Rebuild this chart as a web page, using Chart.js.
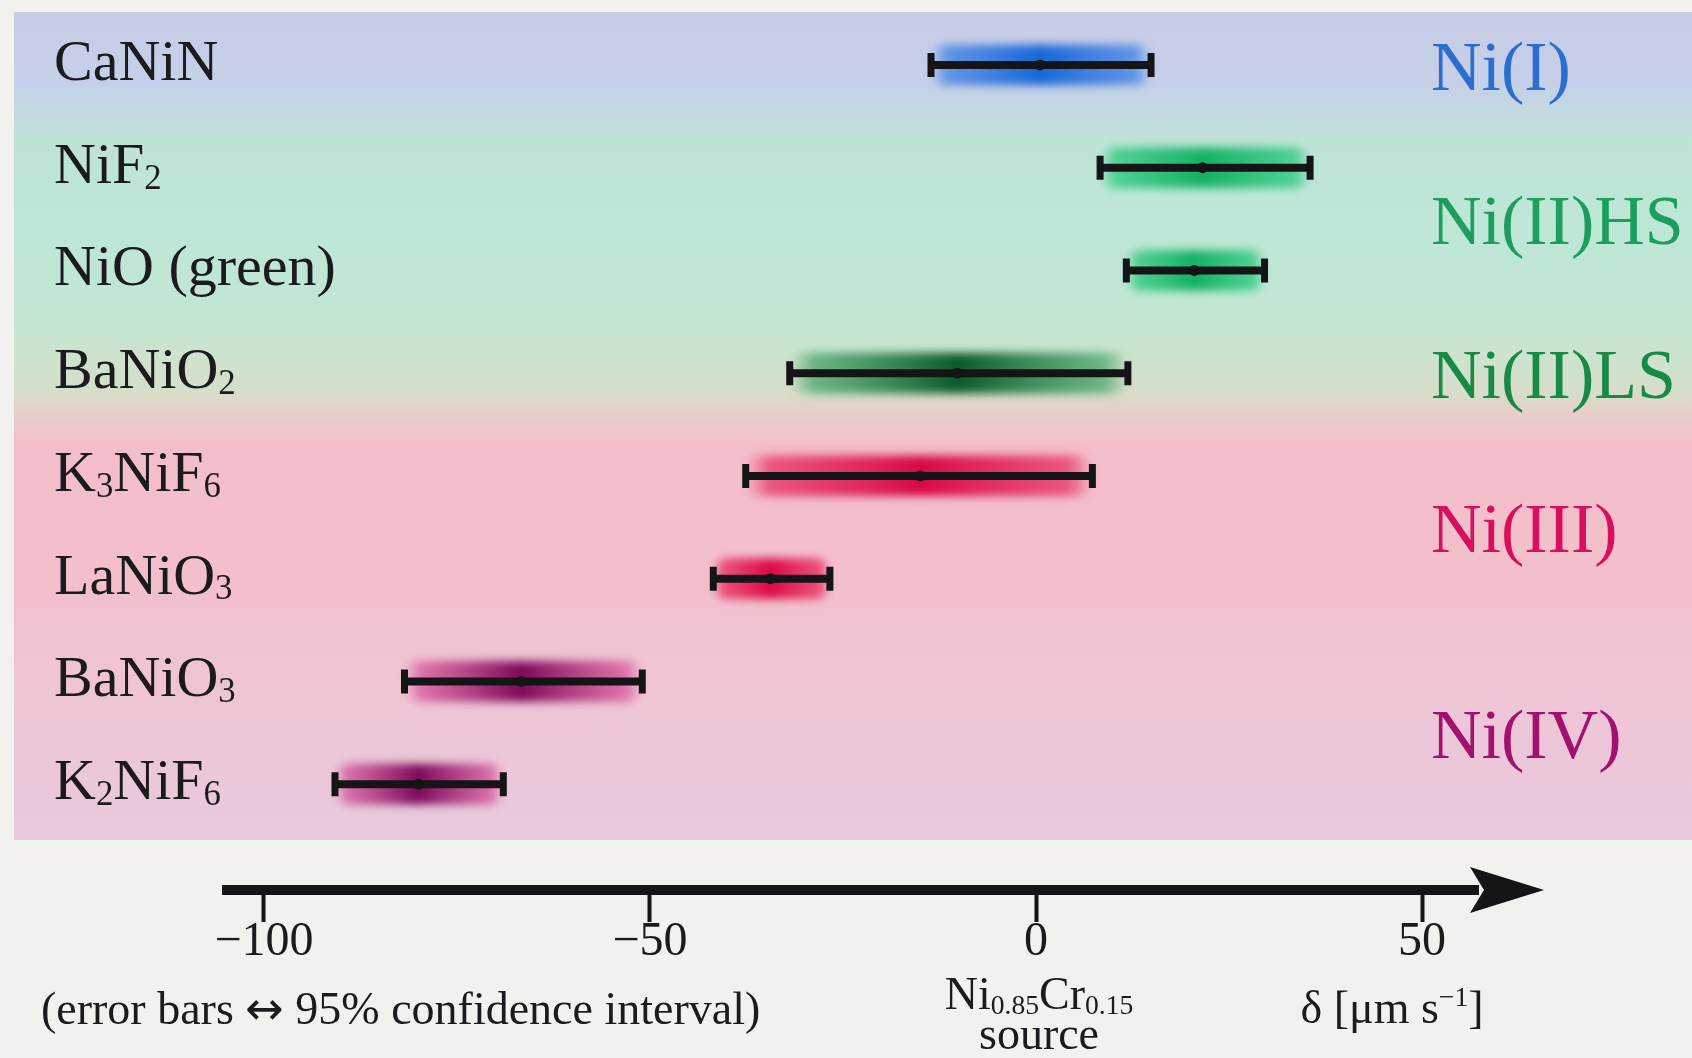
<!DOCTYPE html>
<html><head><meta charset="utf-8">
<script src="https://cdn.jsdelivr.net/npm/chart.js@4.4.1/dist/chart.umd.min.js"></script>
<style>html,body{margin:0;padding:0;background:#f3f1ed;}canvas{display:block;}</style>
</head><body>
<canvas id="c" width="1692" height="1058"></canvas>
<script>
// ---------- data ----------
const categories = ['CaNiN', 'NiF2', 'NiO (green)', 'BaNiO2', 'K3NiF6', 'LaNiO3', 'BaNiO3', 'K2NiF6'];
const centers = [0.5, 21.6, 20.5, -10.2, -15.0, -34.4, -66.7, -80.0];
const lows    = [-13.6, 8.3, 11.7, -31.9, -37.6, -41.8, -81.8, -90.8];
const highs   = [14.9, 35.5, 29.6, 11.9, 7.3, -26.7, -51.0, -69.0];
const groupLabels = ['Ni(I)', 'Ni(II)HS', 'Ni(II)LS', 'Ni(III)', 'Ni(IV)'];
const groupRows = [0, 1.5, 3, 4.5, 6.5];
const tickValues = [-100, -50, 0, 50];
const footnote = [{t:'(error bars '},{t:'\u2194',f:'"DejaVu Sans"'},{t:' 95% confidence interval)'}];
const sourceFormula = [{t:'Ni'},{t:'0.85',s:1},{t:'Cr'},{t:'0.15',s:1}];
const sourceWord = 'source';
const axisUnit = [{t:'\u03B4 [\u03BCm s'},{t:'\u22121',s:-1},{t:']'}];

// ---------- styles ----------
const FONT = '"Liberation Serif", "Times New Roman", serif';
const glowEdge = ['#4f8ae6','#3ccc88','#3ccc88','#5aae78','#ea4272','#ec3e6e','#dc62a2','#d660a0'];
const glowCore = ['#1766d8','#12b064','#12b064','#0a5a2a','#d80844','#dc0846','#7e0858','#7c085a'];
const groupColors = ['#2a6fd0','#1c9e5e','#178a45','#d8105c','#a0126e'];
const ink = '#151517';

function hexA(hex, a) {
  const n = parseInt(hex.slice(1), 16);
  return `rgba(${n>>16},${(n>>8)&255},${n&255},${a})`;
}

function drawRich(ctx, segs, x, y, size, align, color) {
  const parts = segs.map(sg => {
    const fs = sg.s ? size * 0.6 : size;
    const font = `${fs}px ${sg.f ? sg.f + ', ' : ''}${FONT}`;
    ctx.font = font;
    return {t: sg.t, s: sg.s || 0, font, w: ctx.measureText(sg.t).width};
  });
  const total = parts.reduce((a, p) => a + p.w, 0);
  let cx = align === 'center' ? x - total / 2 : align === 'right' ? x - total : x;
  ctx.fillStyle = color;
  ctx.textAlign = 'left';
  ctx.textBaseline = 'alphabetic';
  parts.forEach(p => {
    ctx.font = p.font;
    const dy = p.s === 1 ? size * 0.1 : p.s === -1 ? -size * 0.36 : 0;
    ctx.fillText(p.t, cx, y + dy);
    cx += p.w;
  });
}
function subSegs(label) {
  return label.split(/(\d+)/).filter(Boolean).map(t => ({t, s: /^\d+$/.test(t) ? 1 : 0}));
}

// ---------- plugin: background panel, labels, arrow ----------
const decor = {
  id: 'decor',
  beforeDraw(chart) {
    const ctx = chart.ctx;
    ctx.save();
    ctx.fillStyle = '#f3f1ed';
    ctx.fillRect(0, 0, chart.width, chart.height);
    const top = 12, bot = 840;
    const g = ctx.createLinearGradient(0, top, 0, bot);
    const stops = [[12,'#c8cce6'],[85,'#c5d0e8'],[140,'#bfe3d7'],[200,'#bde6d5'],[300,'#c0e7d3'],
                   [350,'#cbe4ce'],[395,'#d8ddc9'],[422,'#ecc8c8'],[448,'#f3bec9'],[600,'#f2c0cc'],
                   [700,'#eec5d6'],[840,'#e8c9dd']];
    stops.forEach(([y, c]) => g.addColorStop((y - top) / (bot - top), c));
    ctx.fillStyle = g;
    ctx.fillRect(14, top, chart.width - 14, bot - top);
    ctx.restore();
  },
  beforeDatasetDraw(chart, args) {
    if (args.meta.type === 'bar') { chart.ctx.save(); chart.ctx.filter = 'blur(4px)'; }
  },
  afterDatasetDraw(chart, args) {
    if (args.meta.type === 'bar') { chart.ctx.restore(); }
  },
  afterDraw(chart) {
    const ctx = chart.ctx;
    const xs = chart.scales.x, ys = chart.scales.y;
    ctx.save();
    categories.forEach((c, i) => {
      drawRich(ctx, subSegs(c), 54, ys.getPixelForValue(i) + 15, 58, 'left', '#1b1b1d');
    });
    groupLabels.forEach((g, k) => {
      ctx.font = `70px ${FONT}`;
      ctx.fillStyle = groupColors[k];
      ctx.textAlign = 'left';
      ctx.textBaseline = 'alphabetic';
      ctx.fillText(g, 1431, ys.getPixelForValue(groupRows[k]) + 25);
    });
    const ay = xs.top, ax = xs.right;
    ctx.fillStyle = ink;
    ctx.beginPath();
    ctx.moveTo(ax + 66, ay);
    ctx.lineTo(ax - 8, ay - 23);
    ctx.lineTo(ax + 6, ay);
    ctx.lineTo(ax - 8, ay + 23);
    ctx.closePath();
    ctx.fill();
    drawRich(ctx, footnote, 41, 1024, 46, 'left', '#1b1b1d');
    const x0 = xs.getPixelForValue(0);
    drawRich(ctx, sourceFormula, x0 + 3, 1009, 46, 'center', '#1b1b1d');
    ctx.font = `46px ${FONT}`;
    ctx.fillStyle = '#1b1b1d';
    ctx.textAlign = 'center';
    ctx.fillText(sourceWord, x0 + 3, 1049);
    drawRich(ctx, axisUnit, 1392, 1023, 46, 'center', '#1b1b1d');
    ctx.restore();
  }
};

// ---------- datasets ----------
function glowFill(context) {
  const chart = context.chart;
  const i = context.dataIndex;
  if (!chart.chartArea || i === undefined) return glowCore[i || 0];
  const xs = chart.scales.x;
  const x0 = xs.getPixelForValue(lows[i]), x1 = xs.getPixelForValue(highs[i]);
  const xc = xs.getPixelForValue(centers[i]);
  let t = (xc - x0) / (x1 - x0);
  t = Math.min(0.85, Math.max(0.15, t));
  const g = chart.ctx.createLinearGradient(x0, 0, x1, 0);
  g.addColorStop(0, hexA(glowEdge[i], 0.0));
  g.addColorStop(0.07, hexA(glowEdge[i], 0.85));
  g.addColorStop(t, hexA(glowCore[i], 1));
  g.addColorStop(0.93, hexA(glowEdge[i], 0.85));
  g.addColorStop(1, hexA(glowEdge[i], 0.0));
  return g;
}

const datasets = [];
datasets.push({
  type: 'scatter',
  data: categories.map((c, i) => ({x: centers[i], y: i})),
  pointRadius: 5.5,
  pointBackgroundColor: ink,
  pointBorderWidth: 0,
  order: 0
});
categories.forEach((c, i) => {
  datasets.push({
    type: 'line',
    data: [{x: lows[i], y: i}, {x: highs[i], y: i}],
    borderColor: ink,
    borderWidth: 8,
    pointStyle: 'line',
    rotation: 90,
    pointRadius: 12,
    pointBorderWidth: 7,
    pointBorderColor: ink,
    order: 1
  });
});
datasets.push({
  type: 'bar',
  indexAxis: 'y',
  data: categories.map((c, i) => ({y: i, x: [lows[i], highs[i]]})),
  backgroundColor: glowFill,
  borderWidth: 0,
  barThickness: 40,
  borderRadius: 14,
  borderSkipped: false,
  order: 10
});

new Chart(document.getElementById('c'), {
  type: 'scatter',
  data: {datasets},
  options: {
    responsive: false,
    animation: false,
    events: [],
    layout: {autoPadding: false, padding: {left: 227, right: 214, top: 13.6, bottom: 0}},
    plugins: {legend: {display: false}, tooltip: {enabled: false}},
    scales: {
      x: {
        type: 'linear',
        offset: false,
        min: -104.79, max: 57.25,
        afterBuildTicks: s => { s.ticks = tickValues.map(v => ({value: v})); },
        afterFit: s => { s.height = 168; s.paddingLeft = 0; s.paddingRight = 0; },
        border: {display: true, width: 10, color: ink},
        grid: {display: true, drawOnChartArea: false, drawTicks: true, tickLength: 32, tickWidth: 4, tickColor: ink},
        ticks: {
          padding: -8,
          color: '#1b1b1d',
          font: {family: FONT, size: 48},
          maxRotation: 0,
          callback: v => (v < 0 ? '\u2212' + Math.abs(v) : String(v))
        }
      },
      y: {
        type: 'linear',
        offset: false,
        reverse: true,
        min: -0.5, max: 8.03,
        display: false
      }
    }
  },
  plugins: [decor]
});
</script>
</body></html>
